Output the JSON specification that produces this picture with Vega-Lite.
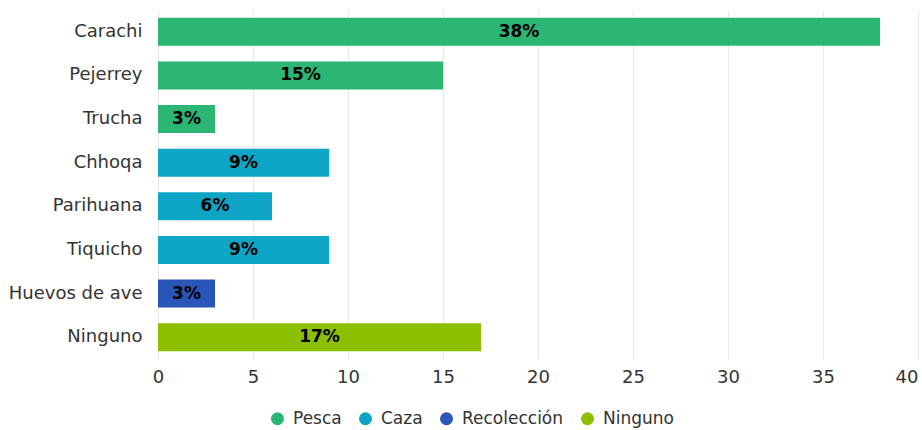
{
  "$schema": "https://vega.github.io/schema/vega-lite/v6.json",
  "autosize": "none",
  "width": 760,
  "height": 349,
  "padding": {"left": 158, "top": 10, "right": 4, "bottom": 71},
  "background": "white",
  "config": {
    "font": "DejaVu Sans",
    "view": {"stroke": null}
  },
  "data": {
    "values": [
      {"especie": "Carachi", "valor": 38, "tipo": "Pesca"},
      {"especie": "Pejerrey", "valor": 15, "tipo": "Pesca"},
      {"especie": "Trucha", "valor": 3, "tipo": "Pesca"},
      {"especie": "Chhoqa", "valor": 9, "tipo": "Caza"},
      {"especie": "Parihuana", "valor": 6, "tipo": "Caza"},
      {"especie": "Tiquicho", "valor": 9, "tipo": "Caza"},
      {"especie": "Huevos de ave", "valor": 3, "tipo": "Recolección"},
      {"especie": "Ninguno", "valor": 17, "tipo": "Ninguno"}
    ]
  },
  "encoding": {
    "y": {
      "field": "especie", "type": "nominal", "sort": null,
      "scale": {"paddingInner": 0.36, "paddingOuter": 0.18},
      "axis": {"title": null, "domain": false, "ticks": false, "labelFontSize": 18, "labelColor": "#333333", "labelPadding": 16}
    }
  },
  "layer": [
    {
      "mark": {"type": "bar"},
      "encoding": {
        "x": {
          "field": "valor", "type": "quantitative",
          "scale": {"domain": [0, 40]},
          "axis": {"title": null, "domain": false, "values": [0,5,10,15,20,25,30,35,40], "ticks": false, "labelFlush": false, "labelAlign": {"expr": "datum.value === 40 ? 'right' : 'center'"}, "labelFontSize": 18, "labelColor": "#333333", "labelPadding": 9, "gridColor": "#e8e8e8"}
        },
        "color": {
          "field": "tipo", "type": "nominal",
          "scale": {"domain": ["Pesca", "Caza", "Recolección", "Ninguno"], "range": ["#2cb673", "#0ea5c6", "#2a55b9", "#8bbf00"]},
          "legend": {"title": null, "orient": "none", "legendX": 111, "legendY": 400, "direction": "horizontal", "symbolType": "circle", "symbolSize": 170, "labelFontSize": 17, "labelColor": "#333333", "labelOffset": 7, "columnPadding": 15}
        }
      }
    },
    {
      "transform": [
        {"calculate": "datum.valor / 2", "as": "medio"},
        {"calculate": "datum.valor + '%'", "as": "etiqueta"}
      ],
      "mark": {"type": "text", "fontWeight": "bold", "fontSize": 17, "color": "#000000", "baseline": "middle", "align": "center"},
      "encoding": {
        "x": {"field": "medio", "type": "quantitative"},
        "text": {"field": "etiqueta", "type": "nominal"}
      }
    }
  ]
}
